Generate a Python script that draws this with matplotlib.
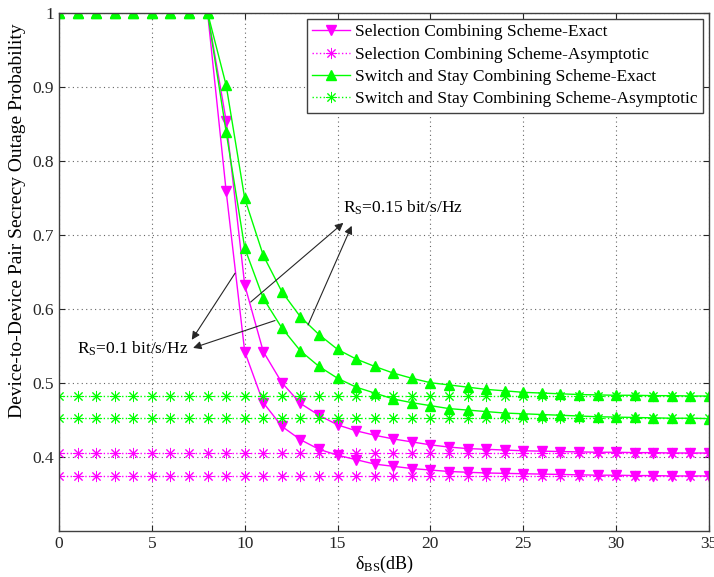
import numpy as np
import matplotlib
matplotlib.use("Agg")
import matplotlib.pyplot as plt

# ======= Secrecy outage probability vs delta_BS =======

plt.rcParams['font.family'] = ['Liberation Serif', 'DejaVu Serif']
plt.rcParams['mathtext.fontset'] = 'custom'
plt.rcParams['mathtext.rm'] = 'Liberation Serif'
plt.rcParams['mathtext.it'] = 'Liberation Serif:italic'

delta_bs = np.arange(0, 36)

# values (x = 0..35 dB)
flat = [1.0] * 9
sc_exact_a = flat + [0.854, 0.632, 0.542, 0.500, 0.472, 0.456, 0.443, 0.435, 0.429, 0.424,
                     0.420, 0.416, 0.413, 0.411, 0.410, 0.409, 0.408, 0.4075, 0.407, 0.4065,
                     0.406, 0.406, 0.4055, 0.4055, 0.405, 0.405, 0.405]
sc_exact_b = flat + [0.759, 0.542, 0.473, 0.441, 0.423, 0.410, 0.402, 0.396, 0.390, 0.387,
                     0.384, 0.382, 0.380, 0.379, 0.378, 0.3775, 0.377, 0.3765, 0.376, 0.3755,
                     0.375, 0.375, 0.3745, 0.3745, 0.374, 0.374, 0.374]
ssc_exact_a = flat + [0.902, 0.749, 0.672, 0.623, 0.589, 0.565, 0.545, 0.532, 0.522, 0.513,
                      0.506, 0.500, 0.497, 0.494, 0.491, 0.489, 0.487, 0.486, 0.485, 0.484,
                      0.4835, 0.483, 0.483, 0.4825, 0.4825, 0.482, 0.482]
ssc_exact_b = flat + [0.839, 0.682, 0.614, 0.574, 0.543, 0.522, 0.506, 0.494, 0.486, 0.478,
                      0.473, 0.469, 0.465, 0.463, 0.461, 0.459, 0.458, 0.457, 0.456, 0.455,
                      0.454, 0.4535, 0.453, 0.4525, 0.452, 0.452, 0.4515]

sc_asym = [0.405, 0.374]
ssc_asym = [0.482, 0.452]

labels = ["Selection Combining Scheme-Exact",
          "Selection Combining Scheme-Asymptotic",
          "Switch and Stay Combining Scheme-Exact",
          "Switch and Stay Combining Scheme-Asymptotic"]

magenta = '#FF00FF'
green = '#00FF00'
star = (8, 2, 0)

fig = plt.figure(figsize=(7.14, 5.77), dpi=100)
ax = fig.add_axes([59 / 714, 1 - 530.7 / 577, 650 / 714, 518 / 577])

# --- Selection combining ---
ax.plot(delta_bs, sc_exact_a, '-', color=magenta, lw=1, marker='v', ms=7.5, label=labels[0])
ax.plot(delta_bs, sc_exact_b, '-', color=magenta, lw=1, marker='v', ms=7.5)
ax.plot(delta_bs, [sc_asym[0]] * len(delta_bs), ':', color=magenta, lw=1, marker=star, ms=8,
        mew=0.7, label=labels[1])
ax.plot(delta_bs, [sc_asym[1]] * len(delta_bs), ':', color=magenta, lw=1, marker=star, ms=8,
        mew=0.7)

# --- Switch and stay combining ---
ax.plot(delta_bs, ssc_exact_a, '-', color=green, lw=1, marker='^', ms=7.5, label=labels[2])
ax.plot(delta_bs, ssc_exact_b, '-', color=green, lw=1, marker='^', ms=7.5)
ax.plot(delta_bs, [ssc_asym[0]] * len(delta_bs), ':', color=green, lw=1, marker=star, ms=8,
        mew=0.7, label=labels[3])
ax.plot(delta_bs, [ssc_asym[1]] * len(delta_bs), ':', color=green, lw=1, marker=star, ms=8,
        mew=0.7)

# --- Axes ---
ax.set_xlim(0, 35)
ax.set_ylim(0.3, 1)
ax.set_xticks(np.arange(0, 36, 5))
ax.set_yticks([0.4, 0.5, 0.6, 0.7, 0.8, 0.9, 1])
ax.set_yticklabels(['0.4', '0.5', '0.6', '0.7', '0.8', '0.9', '1'])
ax.tick_params(direction='in', top=True, right=True, length=4.5, width=0.8,
               labelsize=12.5, colors='0.15')
ax.grid(True, linestyle=(0, (1, 3)), color='0.4', lw=0.8)
for sp in ax.spines.values():
    sp.set_color('0.25')
    sp.set_linewidth(1)

ax.set_xlabel(r'δ$_{\rm BS}$(dB)', fontsize=13, labelpad=2)
ax.set_ylabel('Device-to-Device Pair Secrecy Outage Probability', fontsize=14)
ax.yaxis.set_label_coords(-0.05, 0.598)

leg = ax.legend(loc='upper right', bbox_to_anchor=(0.991, 0.988), borderaxespad=0,
                fontsize=12.5, fancybox=False, framealpha=1, edgecolor='0.25',
                handlelength=2.2, labelspacing=0.36, borderpad=0.3, handletextpad=0.3)
leg.get_frame().set_linewidth(1)

# --- Annotations ---
arrow = dict(arrowstyle='-|>', color='0.15', lw=0.8, mutation_scale=12, shrinkA=0, shrinkB=0)
ax.text(15.28, 0.730, r'R$_{\rm S}$=0.15 bit/s/Hz', fontsize=12.5, va='baseline')
ax.annotate('', xy=(15.31, 0.716), xytext=(10.32, 0.609), arrowprops=arrow)
ax.annotate('', xy=(15.76, 0.712), xytext=(13.41, 0.578), arrowprops=arrow)

ax.text(0.95, 0.539, r'R$_{\rm S}$=0.1 bit/s/Hz', fontsize=12.5, va='baseline')
ax.annotate('', xy=(7.15, 0.558), xytext=(9.48, 0.648), arrowprops=arrow)
ax.annotate('', xy=(7.22, 0.547), xytext=(11.63, 0.584), arrowprops=arrow)

fig.savefig('out.png', dpi=100)
